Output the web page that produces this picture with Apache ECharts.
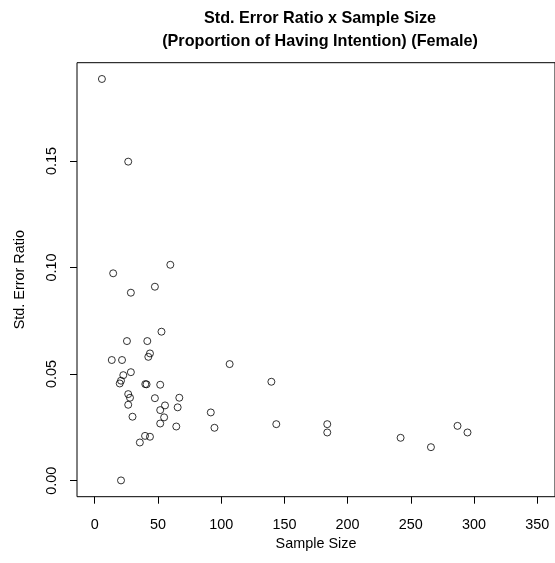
<!DOCTYPE html>
<html>
<head>
<meta charset="utf-8">
<title>Std. Error Ratio x Sample Size</title>
<script src="https://cdn.jsdelivr.net/npm/echarts@6/dist/echarts.min.js"></script>
<style>
  html, body { margin: 0; padding: 0; background: #fff; }
  #chart { width: 555px; height: 563px; }
</style>
</head>
<body>
<div id="chart"></div>
<script>
// Sample size of each estimate (x) and its standard error ratio (y)
const sampleSize = [
  5.7, 26.5, 59.8, 14.6, 47.6, 28.6, 52.8, 25.5, 41.6, 43.7,
  42.4, 13.5, 21.6, 106.7, 28.6, 22.6, 20.8, 19.8, 40.0, 41.0,
  51.8, 26.5, 27.9, 47.6, 66.9, 55.6, 26.5, 65.6, 51.8, 91.8,
  29.9, 54.9, 51.8, 64.5, 94.7, 39.8, 43.7, 35.7, 20.8, 139.7,
  143.6, 183.9, 183.9, 241.9, 265.9, 286.9, 294.8
];
const stdErrorRatio = [
  0.1885, 0.1497, 0.1013, 0.0973, 0.0910, 0.0882, 0.0699, 0.0655, 0.0655, 0.0597,
  0.0581, 0.0566, 0.0566, 0.0547, 0.0509, 0.0495, 0.0469, 0.0456, 0.0453, 0.0452,
  0.0450, 0.0406, 0.0389, 0.0387, 0.0389, 0.0353, 0.0356, 0.0344, 0.0331, 0.0320,
  0.0300, 0.0297, 0.0268, 0.0254, 0.0248, 0.0210, 0.0206, 0.0179, 0.0001, 0.0464,
  0.0265, 0.0265, 0.0226, 0.0201, 0.0157, 0.0257, 0.0226
];

// Tick positions
const xTicks = [0, 50, 100, 150, 200, 250, 300, 350];
const yTicks = [0, 0.05, 0.10, 0.15];

// Axis ranges padded by 4% on each side
const xMin = -14, xMax = 364;
const yMin = -0.00754, yMax = 0.19614;

const titleLines = ['Std. Error Ratio x Sample Size', '(Proportion of Having Intention) (Female)'];

const points = sampleSize.map((x, i) => [x, stdErrorRatio[i]]);

const FONT = '"Liberation Sans", Arial, Helvetica, sans-serif';
const AXIS_FS = 14.4;
const TITLE_FS = 16.2;

const chart = echarts.init(document.getElementById('chart'), null, { renderer: 'canvas' });

chart.setOption({
  backgroundColor: '#ffffff',
  animation: false,
  graphic: [
    {
      type: 'text', x: 320, y: 19,
      style: { text: titleLines[0], font: 'bold ' + TITLE_FS + 'px ' + FONT, fill: '#000', align: 'center', verticalAlign: 'middle' }
    },
    {
      type: 'text', x: 320, y: 41.5,
      style: { text: titleLines[1], font: 'bold ' + TITLE_FS + 'px ' + FONT, fill: '#000', align: 'center', verticalAlign: 'middle' }
    }
  ],
  grid: {
    left: 77, top: 62.7, width: 484.4, height: 434,
    show: true, borderColor: '#000', borderWidth: 1, backgroundColor: 'transparent'
  },
  xAxis: {
    type: 'value', min: xMin, max: xMax,
    name: 'Sample Size', nameLocation: 'middle', nameGap: 40,
    nameTextStyle: { fontFamily: FONT, fontSize: AXIS_FS, color: '#000' },
    axisLine: { show: false, onZero: false },
    axisTick: { show: true, customValues: xTicks, length: 7, lineStyle: { color: '#000', width: 1 } },
    axisLabel: {
      customValues: xTicks, margin: 21, fontFamily: FONT, fontSize: AXIS_FS, color: '#000',
      formatter: v => String(v)
    },
    splitLine: { show: false }
  },
  yAxis: {
    type: 'value', min: yMin, max: yMax,
    name: 'Std. Error Ratio', nameLocation: 'middle', nameGap: 50, nameRotate: 90,
    nameTextStyle: { fontFamily: FONT, fontSize: AXIS_FS, color: '#000' },
    axisLine: { show: false, onZero: false },
    axisTick: { show: true, customValues: yTicks, length: 7, lineStyle: { color: '#000', width: 1 } },
    axisLabel: {
      customValues: yTicks, rotate: 90, margin: 18, fontFamily: FONT, fontSize: AXIS_FS, color: '#000',
      formatter: v => v.toFixed(2)
    },
    splitLine: { show: false }
  },
  series: [{
    type: 'scatter',
    data: points,
    symbol: 'circle',
    symbolSize: 7,
    itemStyle: { color: 'rgba(0,0,0,0)', borderColor: '#000', borderWidth: 1 },
    emphasis: { disabled: true }
  }]
});
</script>
</body>
</html>
